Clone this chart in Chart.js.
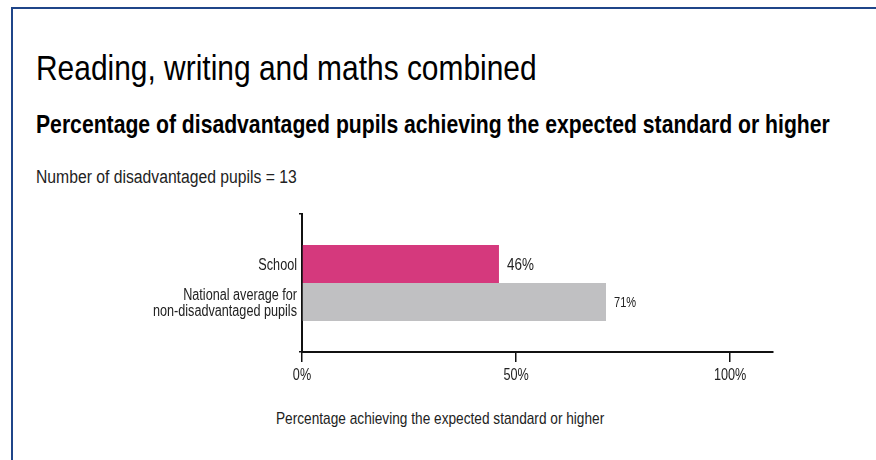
<!DOCTYPE html>
<html lang="en">
<head>
    <meta charset="UTF-8">
    <title>Reading, writing and maths combined</title>
    <style>
        body {
            margin: 0;
            width: 876px;
            height: 460px;
            background: #fff;
            overflow: hidden;
            font-family: "Liberation Sans", Arial, sans-serif;
            color: #111;
        }

        .frame {
            position: absolute;
            left: 11px;
            top: 7px;
            width: 880px;
            height: 470px;
            border-left: 2px solid #1f4589;
            border-top: 2px solid #1f4589;
        }

        .txt {
            position: absolute;
            white-space: nowrap;
            line-height: 1;
            transform-origin: 0 0;
        }

        #title { left: 36px; top: 50px; font-size: 35px; color: #000; }
        #subtitle { left: 36px; top: 112px; font-size: 25px; font-weight: bold; color: #000; }
        #count { left: 36px; top: 168px; font-size: 18px; color: #222; }
        #axis-title { left: 276px; top: 410px; font-size: 17px; color: #222; }

        #chart-container {
            position: absolute;
            left: 0;
            top: 200px;
            width: 876px;
            height: 200px;
        }
    </style>
    <script src="https://cdn.jsdelivr.net/npm/chart.js"></script>
</head>
<body>
    <div class="frame"></div>
    <div class="txt" id="title" data-w="501">Reading, writing and maths combined</div>
    <div class="txt" id="subtitle" data-w="794">Percentage of disadvantaged pupils achieving the expected standard or higher</div>
    <div class="txt" id="count" data-w="261">Number of disadvantaged pupils = 13</div>
    <div class="txt" id="axis-title" data-w="328">Percentage achieving the expected standard or higher</div>
    <div id="chart-container">
        <canvas id="chart"></canvas>
    </div>
    <script>
        const categories = [['School'], ['National average for', 'non-disadvantaged pupils']];
        const values = [46, 71];
        const barColors = ['#d5397d', '#c0c0c2'];
        const tickValues = [0, 50, 100];
        const xMax = 110;

        const FONT = '"Liberation Sans", Arial, sans-serif';
        const NARROW = 0.79; // the original uses a narrow face, squeeze Arial-like text

        // squeeze the headings to the widths they have in the original
        document.querySelectorAll('.txt').forEach(el => {
            const k = +el.dataset.w / el.offsetWidth;
            el.style.transform = 'scaleX(' + k + ')';
        });

        function narrowText(ctx, text, x, y) {
            ctx.save();
            ctx.translate(x, y);
            ctx.scale(NARROW, 1);
            ctx.fillText(text, 0, 0);
            ctx.restore();
        }

        // category names left of the bars, values right of them, narrow tick labels
        const barLabels = {
            id: 'barLabels',
            afterDraw(chart) {
                const ctx = chart.ctx;
                const left = chart.chartArea.left;
                ctx.save();
                ctx.fillStyle = '#222';
                ctx.textBaseline = 'middle';
                chart.data.datasets.forEach((ds, i) => {
                    const bar = chart.getDatasetMeta(i).data[0];
                    const lines = categories[i];
                    ctx.font = '16px ' + FONT;
                    ctx.textAlign = 'right';
                    const lh = 16;
                    const y0 = bar.y + 2 - (lines.length - 1) * lh / 2;
                    lines.forEach((l, k) => narrowText(ctx, l, left - 5, y0 + k * lh));
                    ctx.textAlign = 'left';
                    ctx.font = (i === 0 ? '17px ' : '14px ') + FONT;
                    narrowText(ctx, values[i] + '%', bar.x + 8, bar.y + 1);
                });
                const xs = chart.scales.x;
                ctx.font = '16px ' + FONT;
                ctx.textAlign = 'center';
                tickValues.forEach(v => {
                    narrowText(ctx, v + '%', xs.getPixelForValue(v), chart.chartArea.bottom + 24);
                });
                ctx.restore();
            }
        };

        new Chart(document.getElementById('chart'), {
            type: 'bar',
            data: {
                labels: [''],
                datasets: categories.map((c, i) => ({
                    label: c.join(' '),
                    data: [values[i]],
                    backgroundColor: barColors[i],
                    borderWidth: 0
                }))
            },
            options: {
                indexAxis: 'y',
                responsive: true,
                maintainAspectRatio: false,
                animation: false,
                categoryPercentage: 0.55,
                barPercentage: 1,
                layout: { padding: { left: 292, right: 103, top: 14, bottom: 0 } },
                plugins: {
                    legend: { display: false },
                    tooltip: { enabled: false }
                },
                scales: {
                    x: {
                        min: 0,
                        max: xMax,
                        afterBuildTicks(scale) {
                            scale.ticks = tickValues.map(v => ({ value: v }));
                        },
                        afterFit(scale) { scale.height = 48; },
                        border: { color: '#111', width: 2 },
                        grid: {
                            drawOnChartArea: false,
                            drawTicks: true,
                            tickLength: 10,
                            color: '#111',
                            lineWidth: 1.5
                        },
                        ticks: {
                            padding: 4,
                            color: 'rgba(0,0,0,0)',
                            font: { family: FONT, size: 14 },
                            callback: v => v + '%'
                        }
                    },
                    y: {
                        afterFit(scale) { scale.width = 10; },
                        border: { color: '#111', width: 2 },
                        grid: {
                            drawOnChartArea: false,
                            tickLength: 3,
                            color: '#111',
                            lineWidth: 1.5
                        },
                        ticks: { display: false }
                    }
                }
            },
            plugins: [barLabels]
        });
    </script>
</body>
</html>
